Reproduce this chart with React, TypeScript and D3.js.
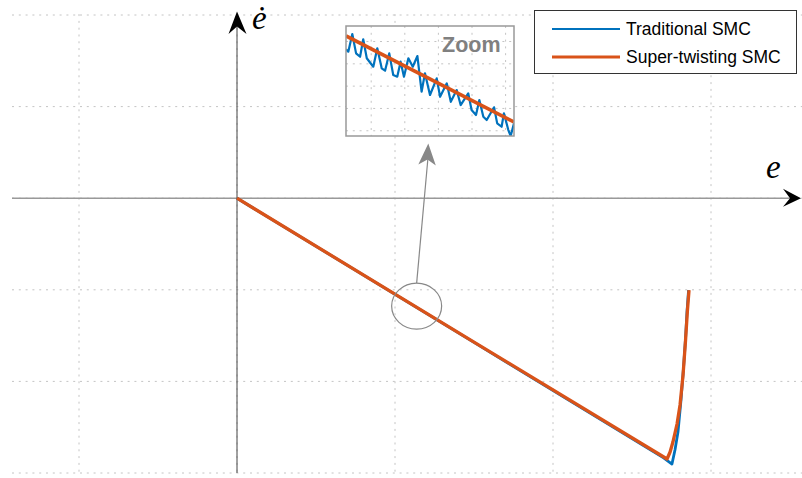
import * as d3 from 'd3';

// main trajectories (e, e-dot)
const superE = [0, 1.5, 2.722, 2.741, 2.759, 2.785, 2.804, 2.823, 2.839, 2.851, 2.861];
const superEdot = [0, -1.571, -2.847, -2.771, -2.662, -2.465, -2.258, -1.931, -1.549, -1.222, -1.004];
const tradE = [0, 1.5, 2.7, 2.753, 2.772, 2.791, 2.81, 2.826, 2.839, 2.848, 2.858];
const tradEdot = [0, -1.574, -2.835, -2.902, -2.749, -2.553, -2.204, -1.855, -1.527, -1.244, -1.004];

// zoomed window data
const zoomSuperE = [1.1, 1.18];
const zoomSuperEdot = [-1.1517, -1.2354];
const zoomTradE = [1.1, 1.1011, 1.103, 1.1048, 1.1067, 1.1082, 1.1099, 1.113, 1.1149, 1.117, 1.1186, 1.1206, 1.1225, 1.1244, 1.126, 1.1276, 1.1297, 1.1318, 1.134, 1.136, 1.1376, 1.14, 1.1432, 1.1448, 1.148, 1.1499, 1.1527, 1.1546, 1.1582, 1.1598, 1.1619, 1.1635, 1.1654, 1.167, 1.1705, 1.172, 1.1741, 1.1752, 1.1773, 1.1784, 1.18];
const zoomTradEdot = [-1.1647, -1.167, -1.1498, -1.1686, -1.1719, -1.1549, -1.1734, -1.1816, -1.1637, -1.1832, -1.1855, -1.1686, -1.1897, -1.1913, -1.1767, -1.1913, -1.1734, -1.1816, -1.1712, -1.2059, -1.188, -1.2091, -1.1929, -1.2108, -1.1978, -1.2157, -1.2043, -1.2189, -1.2075, -1.2237, -1.2286, -1.214, -1.2303, -1.2335, -1.2211, -1.2367, -1.24, -1.2269, -1.2432, -1.249, -1.2367];

const xTicks = [-1, 0, 1, 2, 3];
const yTicks = [-3, -2, -1, 0, 1, 2];
const zoomTicksE = [1.112, 1.128, 1.144, 1.16, 1.176];
const zoomTicksEdot = [-1.2439, -1.2222, -1.2005, -1.1788, -1.1571];
const zoomCenter = [1.137, -1.178];
const seriesNames = ['Traditional SMC', 'Super-twisting SMC'];

const BLUE = '#0072BD';
const ORANGE = '#D95319';

export default function App() {
  const W = 802, H = 478;
  const x = d3.scaleLinear().domain([-1, 3]).range([79, 711]);
  const y = d3.scaleLinear().domain([-3, 2]).range([473, 15]);
  const xMin = -1.424, yMax = 2.01;

  const line = d3.line<[number, number]>().x(d => x(d[0])).y(d => y(d[1]));
  const tradPts = tradE.map((e, i) => [e, tradEdot[i]] as [number, number]);
  const superPts = superE.map((e, i) => [e, superEdot[i]] as [number, number]);

  // inset
  const zx = d3.scaleLinear().domain([1.1, 1.18]).range([346, 514]);
  const zy = d3.scaleLinear().domain([-1.249, -1.142]).range([136, 26]);
  const zline = d3.line<[number, number]>().x(d => zx(d[0])).y(d => zy(d[1]));
  const zTrad = zoomTradE.map((e, i) => [e, zoomTradEdot[i]] as [number, number]);
  const zSuper = zoomSuperE.map((e, i) => [e, zoomSuperEdot[i]] as [number, number]);

  const grid = '#c4c4c4';
  const cx = x(zoomCenter[0]), cy = y(zoomCenter[1]);
  const tipX = 428.3, tipY = 143.5;

  // arrow heads
  const y0 = y(0), x0 = x(0);
  const xEnd = 801, yTop = 11.5;

  return (
    <svg width={W} height={H} style={{ position: 'absolute', left: 0, top: 0, background: '#fff' }}>
      <defs>
        <clipPath id="zclip">
          <rect x={346} y={26} width={168} height={110} />
        </clipPath>
      </defs>
      {/* grid */}
      {xTicks.map(t => (
        <line key={'gx' + t} x1={x(t)} x2={x(t)} y1={y(yMax)} y2={y(-3)} stroke={grid} strokeWidth={1} strokeDasharray="2,4.8" />
      ))}
      {yTicks.map(t => (
        <line key={'gy' + t} x1={x(xMin)} x2={W} y1={y(t)} y2={y(t)} stroke={grid} strokeWidth={1} strokeDasharray="2,4.8" />
      ))}

      {/* axes */}
      <line x1={x(xMin)} x2={xEnd - 10} y1={y0} y2={y0} stroke="#999" strokeWidth={1.6} />
      <line x1={x0} x2={x0} y1={y(-3)} y2={yTop + 14} stroke="#444" strokeWidth={1} />
      <path d={`M${xEnd},${y0} L${xEnd - 18},${y0 - 9.5} L${xEnd - 11},${y0} L${xEnd - 18},${y0 + 8.5} Z`} fill="#000" />
      <path d={`M${x0},${yTop} L${x0 + 9.5},${yTop + 22.5} L${x0},${yTop + 15} L${x0 - 8.5},${yTop + 22.5} Z`} fill="#000" />
      <text x={252} y={29} fontFamily="Liberation Serif" fontStyle="italic" fontSize={33}>ė</text>
      <text x={766} y={178} fontFamily="Liberation Serif" fontStyle="italic" fontSize={33}>e</text>

      {/* trajectories */}
      <path d={line(tradPts) ?? ''} fill="none" stroke={BLUE} strokeWidth={2.8} strokeLinejoin="round" />
      <path d={line(superPts) ?? ''} fill="none" stroke={ORANGE} strokeWidth={3.3} strokeLinejoin="round" />

      {/* zoom marker */}
      <ellipse cx={cx} cy={cy} rx={25} ry={23} fill="none" stroke="#888" strokeWidth={1.2} />
      <line x1={cx} y1={cy - 23} x2={tipX - 0.3} y2={tipY + 14} stroke="#888" strokeWidth={1.2} />
      <path d={`M${tipX},${tipY} L${tipX + 7.5},${tipY + 22} L${tipX - 0.8},${tipY + 16} L${tipX - 10},${tipY + 21} Z`} fill="#888" />

      {/* inset */}
      <rect x={346} y={26} width={168} height={110} fill="#fff" />
      {zoomTicksE.map(t => (
        <line key={'zx' + t} x1={zx(t)} x2={zx(t)} y1={26} y2={136} stroke={grid} strokeWidth={1} strokeDasharray="2,4.8" />
      ))}
      {zoomTicksEdot.map(t => (
        <line key={'zy' + t} x1={346} x2={514} y1={zy(t)} y2={zy(t)} stroke={grid} strokeWidth={1} strokeDasharray="2,4.8" />
      ))}
      <g clipPath="url(#zclip)">
        <path d={zline(zTrad) ?? ''} fill="none" stroke={BLUE} strokeWidth={2.2} strokeLinejoin="round" />
        <path d={zline(zSuper) ?? ''} fill="none" stroke={ORANGE} strokeWidth={3.6} />
      </g>
      <rect x={346} y={26} width={168} height={110} fill="none" stroke="#999" strokeWidth={1.5} />
      <text x={442} y={51.7} fontFamily="Liberation Sans" fontWeight="bold" fontSize={21.5} fill="#808080">Zoom</text>

      {/* legend */}
      <rect x={534.5} y={10.5} width={262} height={63} fill="#fff" stroke="#333" strokeWidth={1} />
      {seriesNames.map((name, i) => (
        <g key={name}>
          <line x1={552} x2={620} y1={29 + i * 28} y2={29 + i * 28} stroke={i === 0 ? BLUE : ORANGE} strokeWidth={i === 0 ? 2 : 3} />
          <text x={626} y={34.5 + i * 28} fontFamily="Liberation Sans" fontSize={17.5} fill="#000">{name}</text>
        </g>
      ))}
    </svg>
  );
}
